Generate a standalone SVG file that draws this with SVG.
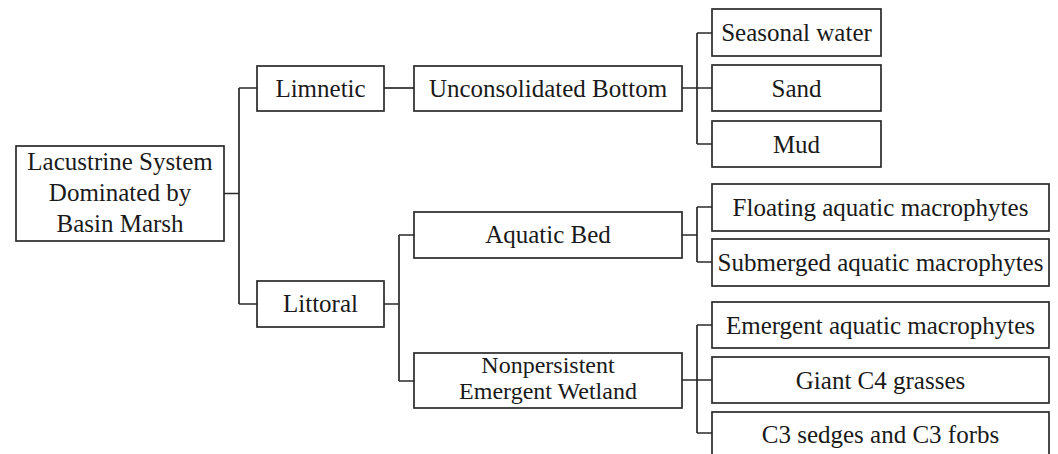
<svg xmlns="http://www.w3.org/2000/svg" width="1058" height="454" viewBox="0 0 1058 454">
<style>
.box{fill:#fff;stroke:#2a2a2a;stroke-width:1.7}
.t{font-family:"Liberation Serif","Times New Roman",serif;font-size:25px;fill:#1a1a1a;text-anchor:middle}
.s{font-size:24px}
.c{fill:none;stroke:#2a2a2a;stroke-width:1.7}
</style>
<rect width="1058" height="454" fill="#fff"/>
<g id="connectors">
<path class="c" d="M224,193.5H239M239,88V304M239,88H257M239,304H257"/>
<path class="c" d="M384,88H414"/>
<path class="c" d="M682,88H712M697,33V144M697,33H712M697,144H712"/>
<path class="c" d="M384,304H399M399,235V381M399,235H414M399,381H414"/>
<path class="c" d="M682,235H697M697,207V262M697,207H712M697,262H712"/>
<path class="c" d="M682,380H712M697,325V433M697,325H712M697,433H712"/>
</g>
<g id="root"><rect class="box" x="16" y="146" width="208" height="95"/>
<text class="t" x="120" y="170">Lacustrine System</text><text class="t" x="120" y="201">Dominated by</text><text class="t" x="120" y="232">Basin Marsh</text></g>
<g id="limnetic"><rect class="box" x="257" y="66" width="127" height="45"/><text class="t" x="320.5" y="97">Limnetic</text></g>
<g id="littoral"><rect class="box" x="257" y="281" width="127" height="46"/><text class="t" x="320.5" y="312">Littoral</text></g>
<g id="unconsolidated"><rect class="box" x="414" y="66" width="268" height="45"/><text class="t" x="548" y="97">Unconsolidated Bottom</text></g>
<g id="aquaticbed"><rect class="box" x="414" y="212" width="268" height="46"/><text class="t" x="548" y="243">Aquatic Bed</text></g>
<g id="nonpersistent"><rect class="box" x="414" y="353" width="268" height="55"/><text class="t s" x="548" y="373">Nonpersistent</text><text class="t s" x="548" y="399">Emergent Wetland</text></g>
<g id="seasonal"><rect class="box" x="712" y="9" width="169" height="47"/><text class="t" x="796.5" y="41">Seasonal water</text></g>
<g id="sand"><rect class="box" x="712" y="65" width="169" height="46"/><text class="t" x="796.5" y="96.5">Sand</text></g>
<g id="mud"><rect class="box" x="712" y="121" width="169" height="46"/><text class="t" x="796.5" y="152.5">Mud</text></g>
<g id="floating"><rect class="box" x="712" y="184" width="337" height="47"/><text class="t" x="880.5" y="216">Floating aquatic macrophytes</text></g>
<g id="submerged"><rect class="box" x="712" y="239" width="337" height="47"/><text class="t" x="880.5" y="271">Submerged aquatic macrophytes</text></g>
<g id="emergent"><rect class="box" x="712" y="302" width="337" height="46"/><text class="t" x="880.5" y="333.5">Emergent aquatic macrophytes</text></g>
<g id="giantc4"><rect class="box" x="712" y="357" width="337" height="46"/><text class="t" x="880.5" y="388.5">Giant C4 grasses</text></g>
<g id="c3"><rect class="box" x="712" y="412" width="337" height="50"/><text class="t" x="880.5" y="443">C3 sedges and C3 forbs</text></g>
</svg>
